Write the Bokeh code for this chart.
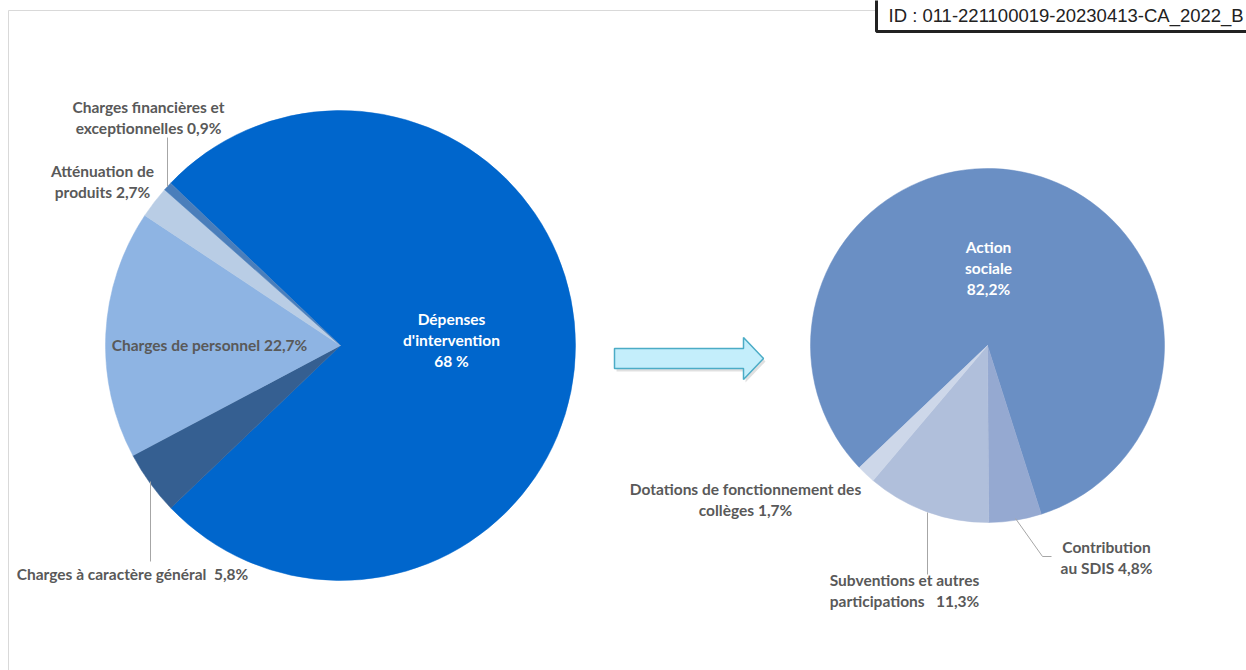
from bokeh.plotting import figure
from bokeh.models import ColumnDataSource
from bokeh.core.properties import value
from bokeh.embed import file_html
from bokeh.resources import INLINE

NB = "\u00a0"

# ---------------- data ----------------
left_names = ["Dépenses d'intervention", "Charges à caractère général", "Charges de personnel",
              "Atténuation de produits", "Charges financières et exceptionnelles"]
left_pct = [68.0, 5.8, 22.7, 2.7, 0.9]            # values printed in the labels
left_share = [75.7, 4.4, 17.1, 2.2, 0.6]          # slice sizes as drawn in the picture
left_colors = ["#0066CC", "#355F91", "#8EB4E3", "#B9CDE5", "#4A7EBB"]
left_label_lines = [["Dépenses", "d'intervention", "68 %"],
                    ["Charges à caractère général " + NB + "5,8%"],
                    ["Charges de personnel 22,7%"],
                    ["Atténuation de", "produits 2,7%"],
                    ["Charges financières et", "exceptionnelles 0,9%"]]

right_names = ["Action sociale", "Contribution au SDIS", "Subventions et autres participations",
               "Dotations de fonctionnement des collèges"]
right_pct = [82.2, 4.8, 11.3, 1.7]
right_colors = ["#6A8FC4", "#95A9D1", "#B0BFDB", "#CDD7E9"]
right_label_lines = [["Action", "sociale", "82,2%"],
                     ["Contribution", "au SDIS 4,8%"],
                     ["Subventions et autres", "participations " + NB + NB + "11,3%"],
                     ["Dotations de fonctionnement des", "collèges 1,7%"]]

W, H = 1246, 670


def Y(v):
    return H - v


p = figure(width=W, height=H, x_range=(0, W), y_range=(0, H),
           output_backend="svg", toolbar_location=None, min_border=0)
p.outline_line_color = None
p.xaxis.visible = False
p.yaxis.visible = False
p.xgrid.visible = False
p.ygrid.visible = False
p.background_fill_color = "white"
p.border_fill_color = "white"

# frame lines
p.line(x=[8, 876], y=[Y(10), Y(10)], line_color="#D9D9D9", line_width=1)
p.line(x=[8, 8], y=[Y(10), Y(670)], line_color="#D9D9D9", line_width=1)


def pie(cx, cy, r, shares, start_deg, colors, names):
    tot = float(sum(shares))
    starts, ends = [], []
    a = start_deg
    for s in shares:
        b = a - s / tot * 360.0
        starts.append(b)
        ends.append(a)
        a = b
    src = ColumnDataSource(dict(start=starts, end=ends, color=colors, label=names))
    p.wedge(x=cx, y=Y(cy), radius=r, start_angle="start", end_angle="end",
            start_angle_units="deg", end_angle_units="deg", direction="anticlock",
            fill_color="color", line_color="color", line_width=0.5, source=src)


pie(340, 345, 235, left_share, 136.3, left_colors, left_names)
pie(987, 345, 177, right_pct, 223.6, right_colors, right_names)

font = value("Lato")


def label(lines, x, y, color, step=21):
    for i, t in enumerate(lines):
        p.text(x=[x], y=[Y(y + i * step)], text=[t], text_font=font,
               text_font_style="bold", text_font_size="15.5px", text_color=color,
               text_align="center", text_baseline="middle")


grey = "#595959"
left_pos = [(451, 318), (132, 573), (209, 344), (102, 170), (148, 106)]
left_cols = ["white", grey, grey, grey, grey]
for lines, (x, y), c in zip(left_label_lines, left_pos, left_cols):
    label(lines, x, y, c)

right_pos = [(988, 246), (1106, 546), (904, 579), (745, 488)]
right_cols = ["white", grey, grey, grey]
for lines, (x, y), c in zip(right_label_lines, right_pos, right_cols):
    label(lines, x, y, c)

# leader lines
lc = "#A6A6A6"
p.line(x=[167, 167], y=[Y(137), Y(186)], line_color=lc, line_width=1)
p.line(x=[150, 150], y=[Y(481), Y(561)], line_color=lc, line_width=1)
p.line(x=[927, 927], y=[Y(512), Y(574)], line_color=lc, line_width=1)
p.line(x=[1015, 1042, 1051], y=[Y(518), Y(556), Y(556)], line_color=lc, line_width=1)

# arrow between the pies
ax = [614, 743, 743, 763, 743, 743, 614]
ay = [348, 348, 337, 358, 379, 368, 368]
p.patch(x=[v + 2 for v in ax], y=[Y(v + 3) for v in ay], fill_color="#000000",
        fill_alpha=0.12, line_color=None)
p.patch(x=ax, y=[Y(v) for v in ay], fill_color="#C4EEFB", line_color="#4BACC6",
        line_width=1.5)

# ID box
p.quad(left=[876], right=[1262], top=[Y(-6)], bottom=[Y(31)], fill_color="white",
       line_color="#222222", line_width=3)
p.text(x=[888], y=[Y(15)], text=["ID : 011-221100019-20230413-CA_2022_B"],
       text_font=value("Liberation Sans"), text_font_size="18.5px", text_color="#222222",
       text_align="left", text_baseline="middle")

open("out.html", "w").write(file_html(p, INLINE))
